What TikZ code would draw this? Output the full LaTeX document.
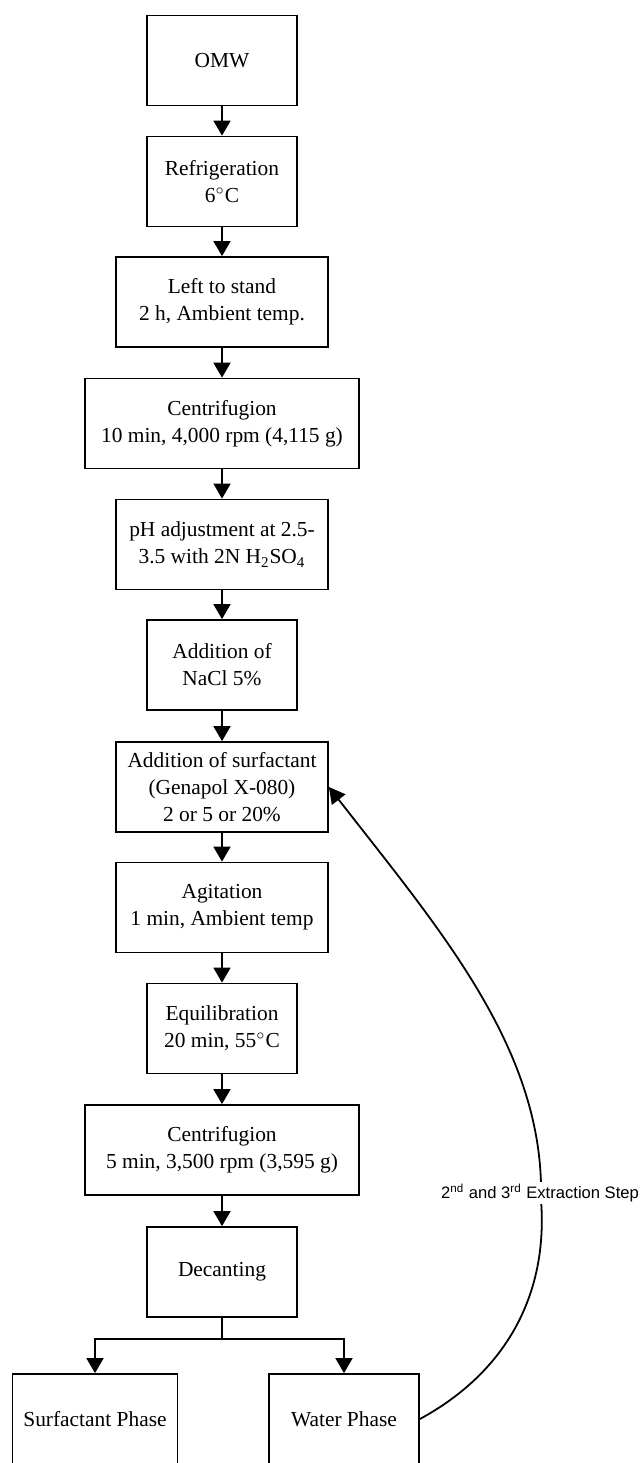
\documentclass[tikz,border=0pt]{standalone}
\usepackage{fontspec}
\setmainfont{Liberation Serif}
\newfontfamily\labelfont{Liberation Sans}
\usepackage{tikz}
\usetikzlibrary{arrows.meta}
\tikzstyle{stepbox} = [draw=black,line width=0.9pt,minimum height=45pt,align=center,inner sep=2pt,font=\fontsize{10.7}{13.5}\selectfont]
\tikzstyle{narrow} = [stepbox,minimum width=75pt]
\tikzstyle{medium} = [stepbox,minimum width=106pt]
\tikzstyle{wide} = [stepbox,minimum width=137pt]
\tikzstyle{flow} = [line width=0.9pt,-{Triangle[length=7.5pt,width=8.5pt]}]
\tikzstyle{recycle} = [line width=0.9pt,-{Triangle[length=8pt,width=8.5pt]}]

\begin{document}
\begin{tikzpicture}[x=0.5pt,y=-0.5pt]
    \useasboundingbox (0,0) rectangle (641,1463);
    \node[narrow] (omw) at (222,60.5) {OMW};
    \node[narrow] (refrig) at (222,181.5) {Refrigeration\\6$^{\circ}$C};
    \node[medium] (stand) at (222,302) {Left to stand\\2 h, Ambient temp.};
    \node[wide] (centrifA) at (222,423.5) {Centrifugion\\10 min, 4,000 rpm (4,115 g)};
    \node[medium] (ph) at (222,544.5) {pH adjustment at 2.5-\\3.5 with 2N H\textsubscript{2}SO\textsubscript{4}};
    \node[narrow] (nacl) at (222,665) {Addition of\\NaCl 5\%};
    \node[medium] (surf) at (222,787) {Addition of surfactant\\(Genapol X-080)\\2 or 5 or 20\%};
    \node[medium] (agit) at (222,907.5) {Agitation\\1 min, Ambient temp};
    \node[narrow] (equil) at (222,1028.5) {Equilibration\\20 min, 55$^{\circ}$C};
    \node[wide] (centrifB) at (222,1150) {Centrifugion\\5 min, 3,500 rpm (3,595 g)};
    \node[narrow] (decant) at (222,1272) {Decanting};
    \node[stepbox,minimum width=82.5pt] (surfph) at (95,1419) {Surfactant Phase};
    \node[narrow] (waterph) at (344,1419) {Water Phase};

    % main chain
    \foreach \a/\b in {omw/refrig,refrig/stand,stand/centrifA,centrifA/ph,ph/nacl,nacl/surf,surf/agit,agit/equil,equil/centrifB,centrifB/decant} {
        \draw[flow] (\a) -- (\b);
    }
    \draw[line width=0.9pt] (decant.south) -- ++(0,21) coordinate (split);
    \draw[flow] (split) -| (surfph);
    \draw[flow] (split) -| (waterph);

    % repeated extraction
    \draw[recycle] (waterph.east) .. controls (510,1370) and (548,1290) .. (541,1200)
        .. controls (545,1050) and (440,930) .. (surf.east);
    \node[fill=white,inner sep=1pt,font=\labelfont\fontsize{8.3}{10}\selectfont] (steplabel) at (540,1193) {2\textsuperscript{nd} and 3\textsuperscript{rd} Extraction Step};
\end{tikzpicture}
\end{document}
